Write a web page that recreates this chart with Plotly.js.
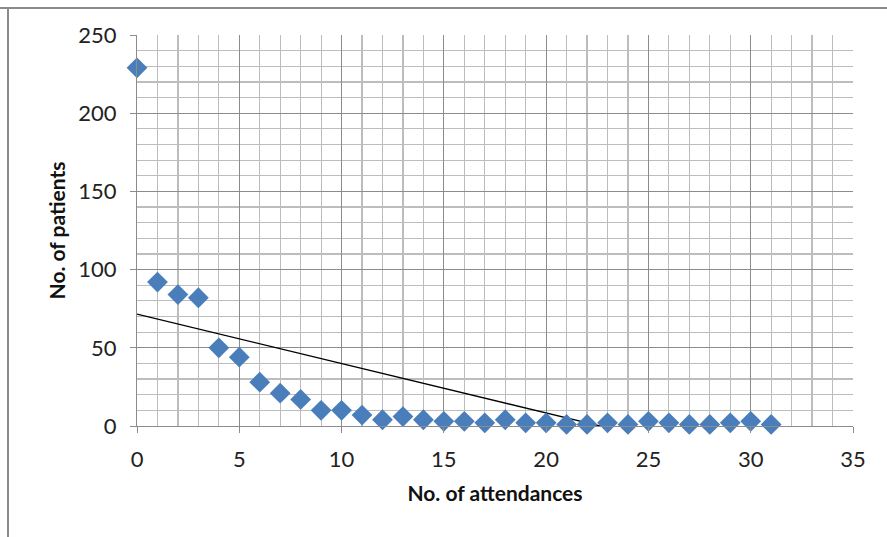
<!DOCTYPE html>
<html>
<head>
<meta charset="utf-8">
<script src="https://cdn.plot.ly/plotly-3.0.1.min.js"></script>
<style>
  html, body { margin: 0; padding: 0; background: #fff; }
  #chart { width: 887px; height: 537px; }
</style>
</head>
<body>
<div id="chart"></div>
<script>
// Number of attendances (x) and number of patients (y)
const attendances = [0,1,2,3,4,5,6,7,8,9,10,11,12,13,14,15,16,17,18,19,20,21,22,23,24,25,26,27,28,29,30,31];
const patients    = [229,92,84,82,50,44,28,21,17,10,10,7,4,6,4,3,3,2,4,2,2,1,1,2,1,3,2,1,1,2,3,1];

const xTitle = "No. of attendances";
const yTitle = "No. of patients";

// Linear trendline (least squares) computed from the data
function linearFit(xs, ys) {
  const n = xs.length;
  let sx = 0, sy = 0, sxx = 0, sxy = 0;
  for (let i = 0; i < n; i++) { sx += xs[i]; sy += ys[i]; sxx += xs[i]*xs[i]; sxy += xs[i]*ys[i]; }
  const slope = (n*sxy - sx*sy) / (n*sxx - sx*sx);
  const intercept = (sy - slope*sx) / n;
  return {slope, intercept};
}
const fit = linearFit(attendances, patients);
const trendX = [attendances[0], attendances[attendances.length-1]];
const trendY = trendX.map(x => fit.intercept + fit.slope * x);

const FONT = "Lato, 'Open Sans', sans-serif";

const traces = [
  {
    x: trendX, y: trendY, type: "scatter", mode: "lines",
    line: {color: "#000000", width: 1.3},
    hoverinfo: "skip", showlegend: false
  },
  {
    x: attendances, y: patients, type: "scatter", mode: "markers",
    marker: {symbol: "diamond", size: 16, color: "#4a7ebb", line: {width: 0}},
    cliponaxis: false, showlegend: false
  }
];

// Plot area in pixels: left 137, right 853, top 35, bottom 426
const L = 137, R = 853, T = 35, B = 426;
const px = v => (v - L) / (R - L);
const py = v => (B - v) / (B - T);

const layout = {
  width: 887, height: 537,
  margin: {l: L, r: 887 - R, t: T, b: 537 - B},
  paper_bgcolor: "#ffffff", plot_bgcolor: "#ffffff",
  font: {family: FONT, size: 22, color: "#222222"},
  showlegend: false,
  xaxis: {
    range: [0, 35], dtick: 5, tick0: 0,
    showgrid: true, gridcolor: "#8c8c8c", gridwidth: 1,
    minor: {dtick: 1, showgrid: true, gridcolor: "#bdbdbd", gridwidth: 1.2},
    showline: true, linecolor: "#8c8c8c", linewidth: 1,
    ticks: "outside", ticklen: 6, tickcolor: "#8c8c8c",
    ticklabelstandoff: 8,
    zeroline: false,
    tickfont: {family: FONT, size: 22, color: "#222222"},
    title: {text: xTitle, font: {family: FONT, size: 21, color: "#111111", weight: "bold"}, standoff: 14}
  },
  yaxis: {
    range: [0, 250], dtick: 50, tick0: 0,
    showgrid: true, gridcolor: "#8c8c8c", gridwidth: 1,
    minor: {dtick: 10, showgrid: true, gridcolor: "#bdbdbd", gridwidth: 1.2},
    showline: true, linecolor: "#8c8c8c", linewidth: 1,
    ticks: "outside", ticklen: 6, tickcolor: "#8c8c8c",
    ticklabelstandoff: 9,
    zeroline: false,
    tickfont: {family: FONT, size: 22, color: "#222222"},
    title: {text: yTitle, font: {family: FONT, size: 21, color: "#111111", weight: "bold"}, standoff: 6}
  },
  shapes: [
    {type: "line", xref: "paper", yref: "paper", x0: px(0), x1: px(887), y0: py(8), y1: py(8),
     line: {color: "#8a8a8a", width: 2}, layer: "above"},
    {type: "line", xref: "paper", yref: "paper", x0: px(8), x1: px(8), y0: py(8), y1: py(537),
     line: {color: "#8a8a8a", width: 2}, layer: "above"}
  ]
};

Plotly.newPlot("chart", traces, layout, {staticPlot: true, displayModeBar: false});
</script>
</body>
</html>
